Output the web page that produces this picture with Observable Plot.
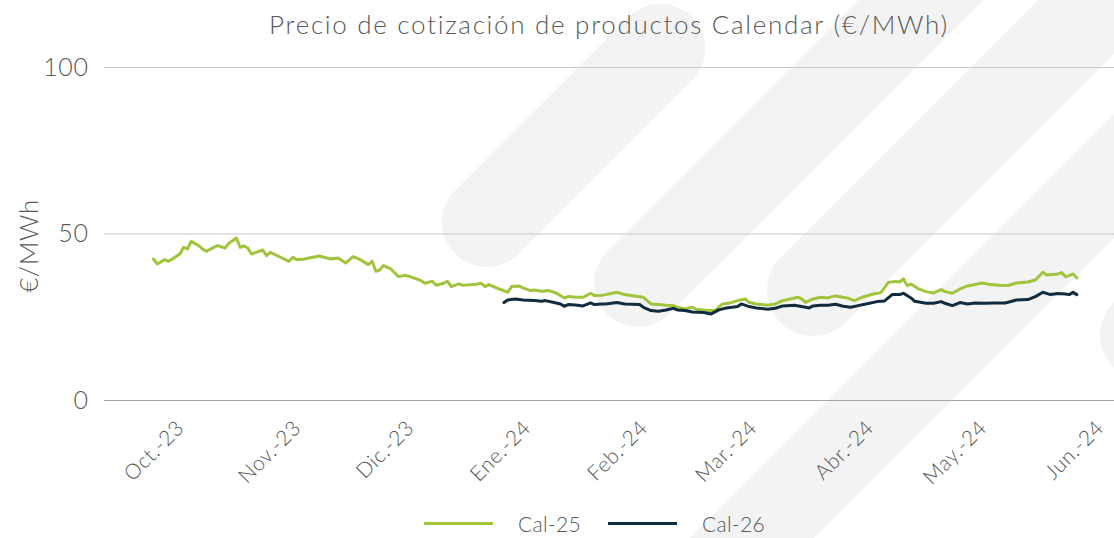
<!DOCTYPE html>
<html><head><meta charset="utf-8">
<script src="https://cdn.jsdelivr.net/npm/d3@7"></script>
<script src="https://cdn.jsdelivr.net/npm/@observablehq/plot@0.6"></script>
<style>
body{margin:0;background:#fff;font-family:Lato,"Open Sans",sans-serif;color:#595959;}
#wrap{position:relative;width:1114px;height:538px;overflow:hidden;background:#fff;}
.band{position:absolute;background:#f3f3f3;}
#title{position:absolute;left:104px;right:0;top:8px;text-align:center;font-size:26px;font-weight:300;letter-spacing:1.7px;white-space:nowrap;}
#chart{position:absolute;left:0;top:50px;}
#chart svg text{letter-spacing:0.6px;}
#legend{position:absolute;top:511px;left:424px;display:flex;align-items:center;font-size:21px;font-weight:300;letter-spacing:0.3px;}
.sw{width:69px;height:3px;}
</style>
</head><body>
<div id="wrap">
<div id="decor"></div>
<div id="title">Precio de cotización de productos Calendar (€/MWh)</div>
<div id="chart"></div>
<div id="legend"></div>
</div>
<script>
const seriesNames = ["Cal-25", "Cal-26"];
const seriesColors = ["#A0C43C", "#112B3F"];
const yTicks = [0, 50, 100];
const monthTicks = ["2023-10-01","2023-11-01","2023-12-01","2024-01-01","2024-02-01","2024-03-01","2024-04-01","2024-05-01","2024-06-01"];
const monthLabels = ["Oct.-23","Nov.-23","Dic.-23","Ene.-24","Feb.-24","Mar.-24","Abr.-24","May.-24","Jun.-24"];

const dates25 = ["2023-09-23","2023-09-24","2023-09-26","2023-09-27","2023-09-28","2023-09-30","2023-10-01","2023-10-02","2023-10-03","2023-10-05","2023-10-06","2023-10-07","2023-10-09","2023-10-10","2023-10-12","2023-10-13","2023-10-15","2023-10-16","2023-10-17","2023-10-18","2023-10-19","2023-10-21","2023-10-22","2023-10-23","2023-10-24","2023-10-26","2023-10-29","2023-10-30","2023-10-31","2023-11-02","2023-11-06","2023-11-09","2023-11-11","2023-11-13","2023-11-15","2023-11-17","2023-11-19","2023-11-20","2023-11-21","2023-11-22","2023-11-23","2023-11-25","2023-11-27","2023-11-29","2023-12-01","2023-12-03","2023-12-04","2023-12-06","2023-12-07","2023-12-09","2023-12-10","2023-12-11","2023-12-13","2023-12-14","2023-12-17","2023-12-19","2023-12-20","2023-12-21","2023-12-23","2023-12-26","2023-12-27","2023-12-29","2023-12-30","2024-01-01","2024-01-02","2024-01-04","2024-01-06","2024-01-08","2024-01-10","2024-01-11","2024-01-13","2024-01-15","2024-01-17","2024-01-18","2024-01-20","2024-01-21","2024-01-24","2024-01-26","2024-01-29","2024-01-31","2024-02-02","2024-02-04","2024-02-06","2024-02-08","2024-02-09","2024-02-11","2024-02-13","2024-02-14","2024-02-17","2024-02-19","2024-02-21","2024-02-23","2024-02-25","2024-02-27","2024-02-28","2024-03-01","2024-03-04","2024-03-06","2024-03-08","2024-03-10","2024-03-12","2024-03-13","2024-03-14","2024-03-16","2024-03-18","2024-03-20","2024-03-21","2024-03-22","2024-03-25","2024-03-27","2024-03-29","2024-04-01","2024-04-03","2024-04-05","2024-04-07","2024-04-08","2024-04-09","2024-04-10","2024-04-11","2024-04-13","2024-04-15","2024-04-17","2024-04-19","2024-04-20","2024-04-22","2024-04-24","2024-04-26","2024-04-27","2024-04-30","2024-05-02","2024-05-05","2024-05-07","2024-05-09","2024-05-12","2024-05-14","2024-05-16","2024-05-17","2024-05-20","2024-05-21","2024-05-22","2024-05-23","2024-05-24","2024-05-25"];
const cal25 = [42.5,41.0,42.3,41.8,42.5,44.0,46.0,45.5,47.8,46.5,45.5,44.8,46.0,46.5,45.8,47.2,48.8,46.0,46.4,45.8,44.0,44.8,45.2,43.5,44.5,43.4,41.8,43.0,42.3,42.5,43.4,42.5,42.8,41.3,43.2,42.2,40.8,41.8,38.8,39.2,40.5,39.5,37.2,37.6,36.8,36.0,35.2,35.8,34.6,35.2,35.8,34.2,35.0,34.6,34.8,35.2,34.2,34.8,33.8,32.5,34.2,34.4,33.8,33.0,33.2,32.8,33.0,32.2,30.8,31.2,31.0,31.0,32.2,31.5,31.6,31.8,32.5,31.8,31.3,31.0,29.0,28.8,28.6,28.5,28.0,27.5,28.0,27.4,27.0,27.0,29.0,29.3,30.0,30.5,29.5,29.0,28.6,29.0,30.0,30.5,31.0,30.5,29.5,30.5,31.0,30.8,31.2,31.4,30.8,30.0,31.0,32.0,32.4,35.5,35.7,35.6,36.5,34.5,35.0,33.5,32.7,32.3,33.3,32.7,32.2,33.5,34.4,34.6,35.3,34.8,34.5,34.6,35.3,35.6,36.2,38.5,37.7,38.0,38.4,37.2,37.5,38.0,36.8];

const dates26 = ["2023-12-25","2023-12-26","2023-12-28","2023-12-30","2024-01-02","2024-01-04","2024-01-05","2024-01-07","2024-01-09","2024-01-10","2024-01-11","2024-01-13","2024-01-15","2024-01-17","2024-01-18","2024-01-20","2024-01-21","2024-01-24","2024-01-26","2024-01-30","2024-01-31","2024-02-02","2024-02-04","2024-02-06","2024-02-08","2024-02-09","2024-02-11","2024-02-13","2024-02-16","2024-02-18","2024-02-20","2024-02-22","2024-02-25","2024-02-26","2024-02-28","2024-03-01","2024-03-04","2024-03-06","2024-03-08","2024-03-11","2024-03-13","2024-03-15","2024-03-16","2024-03-18","2024-03-20","2024-03-22","2024-03-24","2024-03-26","2024-03-28","2024-03-31","2024-04-02","2024-04-04","2024-04-06","2024-04-08","2024-04-09","2024-04-11","2024-04-12","2024-04-15","2024-04-17","2024-04-19","2024-04-20","2024-04-22","2024-04-24","2024-04-26","2024-04-28","2024-05-01","2024-05-03","2024-05-06","2024-05-09","2024-05-12","2024-05-14","2024-05-16","2024-05-18","2024-05-20","2024-05-22","2024-05-23","2024-05-24","2024-05-25"];
const cal26 = [29.4,30.2,30.5,30.2,30.0,29.8,30.0,29.5,29.0,28.3,28.8,28.7,28.4,29.3,28.8,29.0,29.0,29.4,29.0,28.8,28.0,27.0,26.8,27.2,27.7,27.2,27.0,26.6,26.4,26.0,27.2,27.8,28.2,29.0,28.2,27.8,27.4,27.7,28.4,28.6,28.2,27.8,28.4,28.6,28.6,28.9,28.3,28.0,28.5,29.2,29.7,29.9,31.8,31.8,32.2,30.8,29.8,29.2,29.2,29.7,29.2,28.5,29.4,29.0,29.3,29.2,29.3,29.3,30.2,30.3,31.2,32.5,31.8,32.1,32.0,31.8,32.5,31.8];

// decorative watermark stripes (background only, not data)
const decorStripes = [[487,222,245,45],[638,283,520,44],[813,290,520,46],[700,590,1000,44],[1145,335,520,45]];
const decor = document.getElementById("decor");
decorStripes.forEach(([cx, cy, len, r]) => {
  const b = document.createElement("div");
  b.className = "band";
  b.style.left = (cx - r) + "px";
  b.style.top = (cy - r) + "px";
  b.style.width = (len + 2 * r) + "px";
  b.style.height = (2 * r) + "px";
  b.style.borderRadius = r + "px";
  b.style.transformOrigin = r + "px " + r + "px";
  b.style.transform = "rotate(-45deg)";
  decor.appendChild(b);
});

const parse = d3.utcParse("%Y-%m-%d");
const rows25 = dates25.map((d, i) => ({date: parse(d), value: cal25[i]}));
const rows26 = dates26.map((d, i) => ({date: parse(d), value: cal26[i]}));
const tickDates = monthTicks.map(parse);
const labelMap = new Map(tickDates.map((d, i) => [+d, monthLabels[i]]));

const chart = Plot.plot({
  width: 1114, height: 450,
  marginTop: 17, marginBottom: 100, marginLeft: 104, marginRight: 0,
  style: {fontFamily: "Lato, 'Open Sans', sans-serif", color: "#595959", background: "transparent", overflow: "visible"},
  x: {type: "utc", domain: [parse("2023-09-10"), parse("2024-06-04")]},
  y: {domain: [0, 100]},
  marks: [
    Plot.gridY(yTicks.filter(d => d > 0), {stroke: "#c8c8c8", strokeOpacity: 1, strokeWidth: 1}),
    Plot.ruleY([0], {stroke: "#a6a6a6", strokeWidth: 1}),
    Plot.axisY(yTicks, {tickSize: 0, tickPadding: 16, fontSize: 25, fontWeight: 300, label: null}),
    Plot.axisX(tickDates, {tickSize: 0, tickRotate: -45, tickPadding: 24, dx: -3, fontSize: 21, fontWeight: 300, tickFormat: d => labelMap.get(+d), label: null}),
    Plot.text(["€/MWh"], {frameAnchor: "left", textAnchor: "middle", rotate: -90, dx: -75, dy: 12, fontSize: 26, fontWeight: 300}),
    Plot.line(rows25, {x: "date", y: "value", stroke: seriesColors[0], strokeWidth: 3}),
    Plot.line(rows26, {x: "date", y: "value", stroke: seriesColors[1], strokeWidth: 3})
  ]
});
document.getElementById("chart").appendChild(chart);

const legend = document.getElementById("legend");
seriesNames.forEach((name, i) => {
  const sw = document.createElement("div");
  sw.className = "sw";
  sw.style.background = seriesColors[i];
  sw.style.marginLeft = i ? "27px" : "0";
  sw.style.marginRight = "25px";
  const t = document.createElement("span");
  t.textContent = name;
  legend.appendChild(sw);
  legend.appendChild(t);
});
</script>
</body></html>
